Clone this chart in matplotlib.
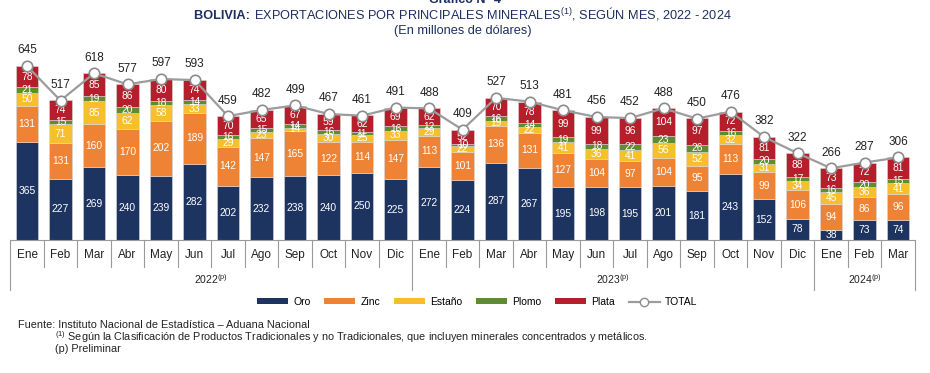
import numpy as np
import matplotlib
matplotlib.use("Agg")
import matplotlib.pyplot as plt
from matplotlib.patches import Patch
from matplotlib.lines import Line2D
import matplotlib.transforms as mtrans

plt.rcParams['font.family'] = ['Liberation Sans', 'DejaVu Sans']
plt.rcParams['mathtext.fontset'] = 'custom'
plt.rcParams['mathtext.rm'] = 'Liberation Sans'

# Data (millones de dólares)
meses = ['Ene', 'Feb', 'Mar', 'Abr', 'May', 'Jun', 'Jul', 'Ago', 'Sep', 'Oct', 'Nov', 'Dic',
         'Ene', 'Feb', 'Mar', 'Abr', 'May', 'Jun', 'Jul', 'Ago', 'Sep', 'Oct', 'Nov', 'Dic',
         'Ene', 'Feb', 'Mar']
anios = ['2022', '2023', '2024']
meses_por_anio = [12, 12, 3]

oro = [365, 227, 269, 240, 239, 282, 202, 232, 238, 240, 250, 225,
       272, 224, 287, 267, 195, 198, 195, 201, 181, 243, 152, 78,
       38, 73, 74]
zinc = [131, 131, 160, 170, 202, 189, 142, 147, 165, 122, 114, 147,
        113, 101, 136, 131, 127, 104, 97, 104, 95, 113, 99, 106,
        94, 86, 96]
estano = [50, 71, 85, 62, 58, 33, 29, 23, 14, 30, 25, 33,
          29, 22, 19, 22, 41, 36, 41, 56, 52, 32, 31, 34,
          45, 36, 41]
plomo = [21, 15, 19, 20, 18, 14, 16, 15, 14, 16, 11, 16,
         12, 10, 16, 14, 19, 18, 22, 23, 26, 16, 20, 17,
         16, 20, 15]
plata = [78, 74, 85, 86, 80, 74, 70, 65, 67, 59, 62, 69,
         62, 52, 70, 78, 99, 99, 96, 104, 97, 72, 81, 88,
         73, 72, 81]
total = [645, 517, 618, 577, 597, 593, 459, 482, 499, 467, 461, 491,
         488, 409, 527, 513, 481, 456, 452, 488, 450, 476, 382, 322,
         266, 287, 306]

series = [('Oro', oro, '#1d3461'), ('Zinc', zinc, '#ee8336'),
          ('Estaño', estano, '#f8bf2c'), ('Plomo', plomo, '#5e8c2e'),
          ('Plata', plata, '#b51f2b')]

fig = plt.figure(figsize=(9.3, 3.73), dpi=100)
ax = fig.add_axes([10.25 / 930, 1 - 240 / 373, (914.75 - 10.25) / 930, 195 / 373])

x = np.arange(len(meses))
bottom = np.zeros(len(meses))
for name, vals, col in series:
    vals = np.array(vals, dtype=float)
    ax.bar(x, vals, 0.66, bottom=bottom, color=col, edgecolor='#d9d9d9', linewidth=0.4, zorder=2)
    for xi, b, v in zip(x, bottom, vals):
        ax.text(xi, b + v / 2, f'{int(v)}', ha='center', va='center', color='white',
                fontsize=7.4, zorder=4)
    bottom += vals

ax.plot(x, total, color='#9c9c9c', lw=1.6, marker='o', markersize=7.5,
        markerfacecolor='white', markeredgecolor='#8c8c8c', markeredgewidth=1.2, zorder=5)
for xi, t in zip(x, total):
    ax.text(xi, t + 58, str(t), ha='center', va='center', fontsize=8.5, color='#222222', zorder=6)

ax.set_xlim(-0.5, len(meses) - 0.5)
ax.set_ylim(0, 723)
for s in ['top', 'right', 'left']:
    ax.spines[s].set_visible(False)
ax.spines['bottom'].set_color('#9a9a9a')
ax.set_xticks([])
ax.set_yticks([])

# category axis (months + years)
tr = mtrans.blended_transform_factory(ax.transData, ax.transAxes)
h = 195.0
y_month = -15 / h
y_mline = -27 / h
y_year = -39 / h
y_yline = -50 / h
for xi, m in zip(x, meses):
    ax.text(xi, y_month, m, transform=tr, ha='center', va='center', fontsize=8.5, color='#222222')
bounds = np.cumsum([0] + meses_por_anio)
for i in range(len(meses) + 1):
    yb = y_yline if i in bounds else y_mline
    ax.add_line(Line2D([i - 0.5, i - 0.5], [0, yb], transform=tr, color='#9a9a9a', lw=0.8, clip_on=False))
for a, s, e in zip(anios, bounds[:-1], bounds[1:]):
    ax.text((s + e - 1) / 2, y_year, a + r'$^{\rm (p)}$', transform=tr, ha='center', va='center',
            fontsize=7.5, color='#222222')

# legend
handles = [Patch(facecolor=c, edgecolor='none', label=n) for n, _, c in series]
handles.append(Line2D([0], [0], color='#9c9c9c', lw=1.6, marker='o', markersize=6,
                      markerfacecolor='white', markeredgecolor='#8c8c8c', label='TOTAL'))
fig.legend(handles=handles, loc='center', bbox_to_anchor=(477 / 930, 1 - 302 / 373), ncol=6,
           frameon=False, fontsize=7.5, handlelength=3.0, handleheight=0.5, columnspacing=1.3,
           handletextpad=0.5)

# title
navy = '#1d2f5e'
fig.text(0.5, 1.0, 'Gráfico N° 4', ha='center', va='center', fontsize=9, color=navy, fontweight='bold')
ty = 1 - 19 / 373
t1 = fig.text(0.5, ty, 'BOLIVIA: ', ha='left', va='baseline', fontsize=9.2,
              color=navy, fontweight='bold')
t2 = fig.text(0.5, ty, r'EXPORTACIONES POR PRINCIPALES MINERALES$^{\rm (1)}$, SEGÚN MES, 2022 - 2024',
              ha='left', va='baseline', fontsize=9.2, color=navy)
fig.canvas.draw()
w1 = t1.get_window_extent().width
w2 = t2.get_window_extent().width
x0 = 463 - (w1 + w2) / 2
t1.set_position((x0 / 930, ty))
t2.set_position(((x0 + w1) / 930, ty))
fig.text(463 / 930, 1 - 31 / 373, '(En millones de dólares)', ha='center', va='center',
         fontsize=9.2, color=navy)

# footer
fig.text(18 / 930, 1 - 325 / 373, 'Fuente: Instituto Nacional de Estadística – Aduana Nacional',
         ha='left', va='center', fontsize=7.8, color='#222222')
fig.text(55 / 930, 1 - 337 / 373, r'$^{\rm (1)}$ Según la Clasificación de Productos Tradicionales y no Tradicionales, que incluyen minerales concentrados y metálicos.',
         ha='left', va='center', fontsize=7.8, color='#222222')
fig.text(55 / 930, 1 - 349 / 373, '(p) Preliminar', ha='left', va='center', fontsize=7.8, color='#222222')

fig.savefig('out.png', dpi=100)
